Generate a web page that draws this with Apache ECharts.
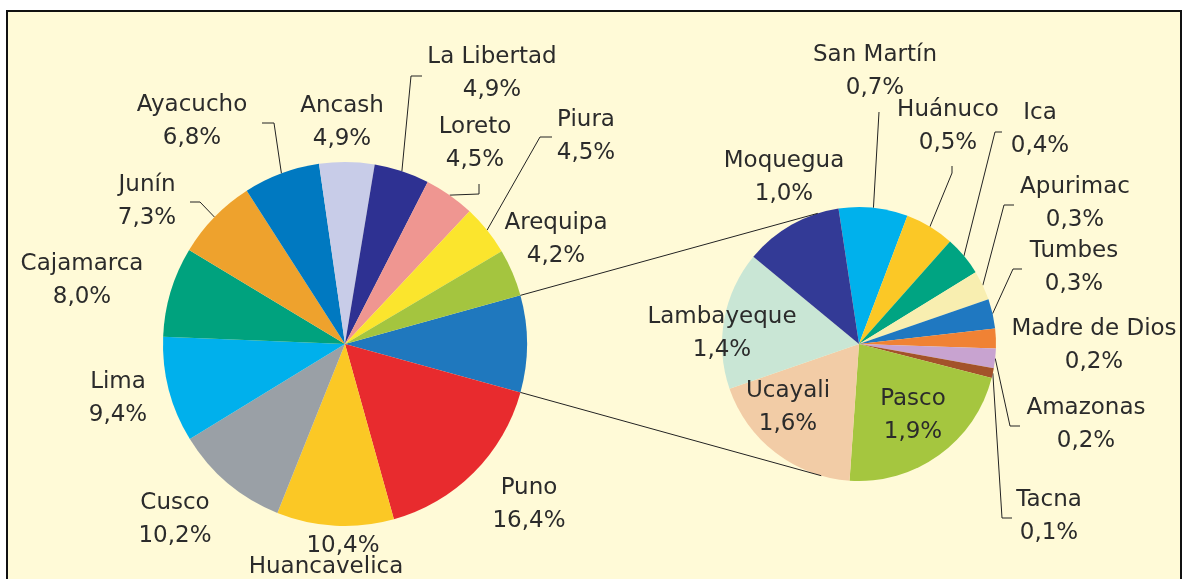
<!DOCTYPE html>
<html>
<head>
<meta charset="utf-8">
<script src="https://cdn.jsdelivr.net/npm/echarts@6/dist/echarts.min.js"></script>
<style>
  html, body { margin: 0; padding: 0; background: #fff; overflow: hidden; }
  #frame {
    position: absolute; left: 6px; top: 10px; width: 1176px; height: 620px;
    box-sizing: border-box; border: 2px solid #111; background: #fffad7;
  }
  #chart { position: absolute; left: 0; top: 0; width: 1182px; height: 579px; }
</style>
</head>
<body>
<div id="frame"></div>
<div id="chart"></div>
<script>
// big pie, clockwise from the "rest" wedge at 3 o'clock
const leftNames = ['Resto', 'Puno', 'Huancavelica', 'Cusco', 'Lima', 'Cajamarca', 'Junín',
  'Ayacucho', 'Ancash', 'La Libertad', 'Loreto', 'Piura', 'Arequipa'];
const leftColors = ['#1f78be', '#e82b2e', '#fbc825', '#9aa0a6', '#00b0ec', '#00a27e', '#eea22d',
  '#0079c1', '#c8cce8', '#2e3192', '#ef9691', '#fbe52d', '#a4c53f'];

// small pie, clockwise from San Martín
const rightNames = ['San Martín', 'Huánuco', 'Ica', 'Apurimac', 'Tumbes', 'Madre de Dios',
  'Amazonas', 'Tacna', 'Pasco', 'Ucayali', 'Lambayeque', 'Moquegua'];
const rightValues = [0.7, 0.5, 0.4, 0.3, 0.3, 0.2, 0.2, 0.1, 1.9, 1.6, 1.4, 1.0];
const rightColors = ['#00b1ec', '#fbc826', '#00a482', '#f8eeb0', '#1f78c1', '#f08234',
  '#c8a3d0', '#a3522a', '#a5c63f', '#f2cca6', '#c9e6d5', '#333a96'];

const restValue = rightValues.reduce((a, b) => a + b, 0);
const leftValues = [restValue, 16.4, 10.4, 10.2, 9.4, 8.0, 7.3, 6.8, 4.9, 4.9, 4.5, 4.5, 4.2];

const leftCenter = [345, 344], leftRadius = 182, leftStart = 15.5;
const rightCenter = [859, 344], rightRadius = 137, rightStart = 98.6;
const bridgeAngles = [107.5, 254];

// label block centres, relative to the pie centre
const leftSpots = {
  'Puno': [184, 161], 'Huancavelica': [-19, 213], 'Cusco': [-170, 176], 'Lima': [-227, 55],
  'Cajamarca': [-263, -63], 'Junín': [-198, -142], 'Ayacucho': [-153, -222], 'Ancash': [-3, -221],
  'La Libertad': [147, -270], 'Loreto': [130, -200], 'Piura': [241, -207], 'Arequipa': [211, -104]
};
const leftGuides = {
  'La Libertad': [[66, -268], [77, -268]],
  'Loreto': [[134, -150], [134, -160]],
  'Piura': [[195, -207], [207, -207]],
  'Ayacucho': [[-71, -221], [-83, -221]],
  'Junín': [[-145, -142], [-155, -142]]
};
const rightSpots = {
  'Moquegua': [-75, -166], 'San Martín': [16, -272], 'Huánuco': [89, -217], 'Ica': [181, -214],
  'Apurimac': [216, -140], 'Tumbes': [215, -76], 'Madre de Dios': [235, 2], 'Amazonas': [227, 81],
  'Tacna': [190, 173], 'Pasco': [54, 72], 'Ucayali': [-71, 64], 'Lambayeque': [-137, -10]
};
const rightGuides = {
  'San Martín': [[20, -232]],
  'Huánuco': [[93, -171], [93, -178]],
  'Ica': [[136, -212], [143, -212]],
  'Apurimac': [[145, -139], [155, -139]],
  'Tumbes': [[154, -75], [163, -75]],
  'Amazonas': [[151, 82], [161, 82]],
  'Tacna': [[143, 174], [153, 174]]
};

const pct = v => v.toFixed(1).replace('.', ',') + '%';
const textStyle = { fontFamily: 'DejaVu Sans', fontSize: 23, color: '#2b2b2b', lineHeight: 33 };

function makeLayout(names, center, spots, guides) {
  return function (params) {
    const name = names[params.dataIndex];
    const spot = spots[name];
    if (!spot) return;
    const out = {
      x: center[0] + spot[0], y: center[1] + spot[1],
      align: 'center', verticalAlign: 'middle'
    };
    const guide = guides[name];
    if (guide && params.labelLinePoints) {
      out.labelLinePoints = [params.labelLinePoints[0]]
        .concat(guide.map(p => [center[0] + p[0], center[1] + p[1]]));
    }
    return out;
  };
}

function buildData(names, values, colors, guides, hidden) {
  return names.map((n, i) => ({
    name: n,
    value: values[i],
    itemStyle: { color: colors[i] },
    label: { show: n !== hidden },
    labelLine: { show: !!guides[n] }
  }));
}

function edgePoint(center, r, deg) {
  const a = deg * Math.PI / 180;
  return [center[0] + r * Math.cos(a), center[1] - r * Math.sin(a)];
}

const leftTotal = leftValues.reduce((a, b) => a + b, 0);
const restEnd = leftStart - 360 * restValue / leftTotal;
const p1 = edgePoint(leftCenter, leftRadius, leftStart);
const p2 = edgePoint(leftCenter, leftRadius, restEnd);
const q1 = edgePoint(rightCenter, rightRadius, bridgeAngles[0]);
const q2 = edgePoint(rightCenter, rightRadius, bridgeAngles[1]);

const chart = echarts.init(document.getElementById('chart'));

const commonSeries = {
  type: 'pie',
  clockwise: true,
  avoidLabelOverlap: false,
  animation: false,
  silent: true,
  itemStyle: { borderWidth: 0 },
  emphasis: { disabled: true },
  labelLine: { lineStyle: { color: '#222', width: 1 }, length: 10, length2: 5, smooth: false }
};

chart.setOption({
  backgroundColor: 'transparent',
  animation: false,
  series: [
    Object.assign({}, commonSeries, {
      name: 'departamentos',
      center: leftCenter,
      radius: leftRadius,
      startAngle: leftStart,
      data: buildData(leftNames, leftValues, leftColors, leftGuides, 'Resto'),
      label: Object.assign({
        position: 'outside',
        formatter: p => p.name === 'Huancavelica'
          ? '{v|' + pct(p.value) + '}\n{n|' + p.name + '}'
          : p.name + '\n' + pct(p.value),
        rich: {
          v: Object.assign({}, textStyle, { lineHeight: 21, padding: [0, 0, 0, 34] }),
          n: Object.assign({}, textStyle, { lineHeight: 21 })
        }
      }, textStyle),
      labelLayout: makeLayout(leftNames, leftCenter, leftSpots, leftGuides)
    }),
    Object.assign({}, commonSeries, {
      name: 'resto',
      center: rightCenter,
      radius: rightRadius,
      startAngle: rightStart,
      data: buildData(rightNames, rightValues, rightColors, rightGuides, null),
      label: Object.assign({
        position: 'outside',
        formatter: p => p.name + '\n' + pct(p.value)
      }, textStyle),
      labelLayout: makeLayout(rightNames, rightCenter, rightSpots, rightGuides)
    })
  ],
  graphic: [
    { type: 'line', z: 10, shape: { x1: p1[0], y1: p1[1], x2: q1[0], y2: q1[1] },
      style: { stroke: '#222', lineWidth: 1 } },
    { type: 'line', z: 10, shape: { x1: p2[0], y1: p2[1], x2: q2[0], y2: q2[1] },
      style: { stroke: '#222', lineWidth: 1 } }
  ]
});
</script>
</body>
</html>
